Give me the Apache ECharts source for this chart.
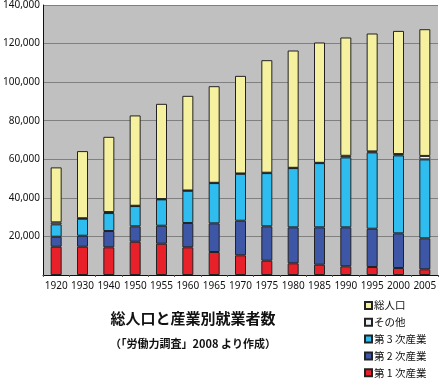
<!DOCTYPE html>
<html>
<head>
<meta charset="utf-8">
<script src="https://cdn.jsdelivr.net/npm/echarts@6/dist/echarts.min.js"></script>
<style>html,body{margin:0;padding:0;background:#fff}#c{width:440px;height:380px}</style>
</head>
<body>
<div id="c"></div>
<script>
const years = ['1920','1930','1940','1950','1955','1960','1965','1970','1975','1980','1985','1990','1995','2000','2005'];
const totalPop  = [55800, 64240, 71650, 82740, 88750, 92900, 97900, 103250, 111390, 116400, 120560, 123150, 125220, 126570, 127450];
const primary   = [14660, 14660, 14350, 17250, 16220, 14350, 11920, 10200, 7410, 6060, 5340, 4510, 4140, 3630, 2950];
const secondary = [5180, 5700, 8450, 7980, 9330, 12590, 14860, 17930, 17820, 18650, 19370, 20200, 19850, 17970, 16060];
const tertiary  = [6420, 8810, 9320, 10520, 13670, 16740, 20880, 24360, 27610, 30720, 33310, 36270, 39580, 40410, 40930];
const other     = [1040, 250, 520, 150, 150, 150, 150, 150, 200, 150, 150, 830, 520, 690, 1800];
const yTicks = [0, 20000, 40000, 60000, 80000, 100000, 120000, 140000];
const titleText = '総人口と産業別就業者数';
const subtitleText = '（「労働力調査」2008 より作成）';
const names = ['第 1 次産業','第 2 次産業','第 3 次産業','その他','総人口'];
const colors = ['#e8202a','#3d57a6','#2ebdee','#eef3f6','#f6f19e'];

const rest = totalPop.map((t, i) => t - primary[i] - secondary[i] - tertiary[i] - other[i]);
const seriesData = [primary, secondary, tertiary, other, rest];

const chart = echarts.init(document.getElementById('c'), null, {renderer: 'canvas'});
const font = '"Noto Sans", "Noto Sans CJK JP", sans-serif';
chart.setOption({
  animation: false,
  textStyle: {fontFamily: font},
  grid: {left: 38, right: 2, top: 5, bottom: 105, show: true, backgroundColor: '#c0c0c0', borderWidth: 0, containLabel: false},
  xAxis: {
    type: 'category', data: years,
    axisLine: {lineStyle: {color: '#111', width: 1}},
    axisTick: {show: true, length: 2, lineStyle: {color: '#555'}},
    axisLabel: {color: '#111', fontSize: 10, margin: 6, interval: 0, fontFamily: font}
  },
  yAxis: {
    type: 'value', min: yTicks[0], max: yTicks[yTicks.length - 1], interval: yTicks[1] - yTicks[0],
    axisLine: {show: true, lineStyle: {color: '#111', width: 1}},
    axisTick: {show: false},
    splitLine: {lineStyle: {color: '#808080', width: 1}},
    axisLabel: {color: '#111', fontSize: 10, margin: 3, fontFamily: font,
      formatter: v => v === 0 ? '' : v.toLocaleString('en-US')}
  },
  legend: {
    orient: 'vertical', left: 364, top: 300, height: 100, padding: 0,
    itemWidth: 7, itemHeight: 7, itemGap: 5.8,
    data: ['総人口','その他','第 3 次産業','第 2 次産業','第 1 次産業'],
    textStyle: {fontSize: 10.5, lineHeight: 11, color: '#111', fontFamily: '"Noto Sans CJK JP", sans-serif', padding: [0,0,0,-3]},
    icon: 'rect'
  },
  graphic: [
    {type: 'text', x: 193, y: 318, style: {text: titleText, fill: '#111', font: 'bold 15px "Noto Sans CJK JP"', textAlign: 'center', textVerticalAlign: 'middle'}},
    {type: 'text', x: 193, y: 344, style: {text: subtitleText, fill: '#111', font: 'bold 11px "Noto Sans CJK JP"', textAlign: 'center', textVerticalAlign: 'middle'}}
  ],
  series: names.map((n, k) => ({
    name: n, type: 'bar', stack: 'all', barWidth: 11,
    data: seriesData[k],
    itemStyle: {color: colors[k], borderColor: '#222', borderWidth: 1}
  }))
});
</script>
</body>
</html>
